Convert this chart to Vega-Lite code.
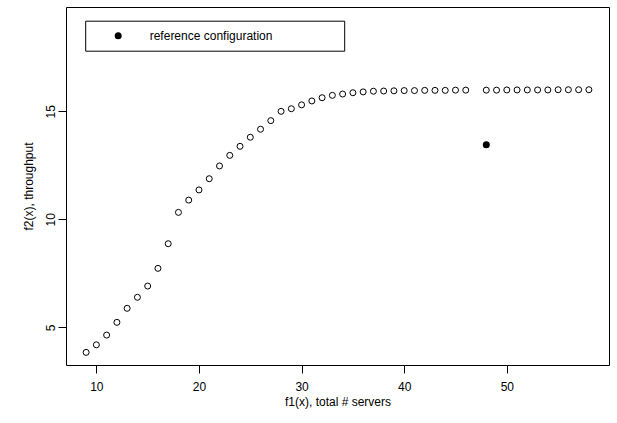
{
  "$schema": "https://vega.github.io/schema/vega-lite/v6.json",
  "width": 543,
  "height": 358,
  "autosize": {"type": "none"},
  "padding": {"left": 66, "top": 7, "right": 8, "bottom": 58},
  "background": "white",
  "config": {
    "font": "Liberation Sans",
    "view": {"stroke": "black", "strokeWidth": 1},
    "axis": {
      "domain": false,
      "grid": false,
      "tickColor": "black",
      "tickSize": 8,
      "tickWidth": 1,
      "labelColor": "black",
      "labelFont": "Liberation Sans",
      "labelFontSize": 12,
      "titleColor": "black",
      "titleFont": "Liberation Sans",
      "titleFontSize": 12,
      "titleFontWeight": "normal"
    }
  },
  "datasets": {
    "front": [
      {"servers": 9, "throughput": 3.84},
      {"servers": 10, "throughput": 4.19},
      {"servers": 11, "throughput": 4.64},
      {"servers": 12, "throughput": 5.23},
      {"servers": 13, "throughput": 5.88},
      {"servers": 14, "throughput": 6.39},
      {"servers": 15, "throughput": 6.91},
      {"servers": 16, "throughput": 7.73},
      {"servers": 17, "throughput": 8.87},
      {"servers": 18, "throughput": 10.32},
      {"servers": 19, "throughput": 10.89},
      {"servers": 20, "throughput": 11.36},
      {"servers": 21, "throughput": 11.88},
      {"servers": 22, "throughput": 12.47},
      {"servers": 23, "throughput": 12.96},
      {"servers": 24, "throughput": 13.38},
      {"servers": 25, "throughput": 13.8},
      {"servers": 26, "throughput": 14.17},
      {"servers": 27, "throughput": 14.57},
      {"servers": 28, "throughput": 15.0},
      {"servers": 29, "throughput": 15.12},
      {"servers": 30, "throughput": 15.3},
      {"servers": 31, "throughput": 15.48},
      {"servers": 32, "throughput": 15.63},
      {"servers": 33, "throughput": 15.74},
      {"servers": 34, "throughput": 15.8},
      {"servers": 35, "throughput": 15.86},
      {"servers": 36, "throughput": 15.9},
      {"servers": 37, "throughput": 15.93},
      {"servers": 38, "throughput": 15.94},
      {"servers": 39, "throughput": 15.95},
      {"servers": 40, "throughput": 15.96},
      {"servers": 41, "throughput": 15.96},
      {"servers": 42, "throughput": 15.97},
      {"servers": 43, "throughput": 15.97},
      {"servers": 44, "throughput": 15.97},
      {"servers": 45, "throughput": 15.98},
      {"servers": 46, "throughput": 15.98},
      {"servers": 48, "throughput": 15.98},
      {"servers": 49, "throughput": 15.98},
      {"servers": 50, "throughput": 15.99},
      {"servers": 51, "throughput": 15.99},
      {"servers": 52, "throughput": 15.99},
      {"servers": 53, "throughput": 15.99},
      {"servers": 54, "throughput": 15.99},
      {"servers": 55, "throughput": 16.0},
      {"servers": 56, "throughput": 16.0},
      {"servers": 57, "throughput": 16.0},
      {"servers": 58, "throughput": 16.0}
    ],
    "reference": [
      {"servers": 48, "throughput": 13.45, "series": "reference configuration"}
    ]
  },
  "encoding": {
    "x": {
      "field": "servers",
      "type": "quantitative",
      "scale": {"domain": [7.04, 59.96], "nice": false, "zero": false},
      "axis": {
        "title": "f1(x), total # servers",
        "values": [10, 20, 30, 40, 50],
        "labelPadding": 8,
        "titlePadding": 4
      }
    },
    "y": {
      "field": "throughput",
      "type": "quantitative",
      "scale": {"domain": [3.255, 19.83], "nice": false, "zero": false},
      "axis": {
        "title": "f2(x), throughput",
        "values": [5, 10, 15],
        "labelAngle": 270,
        "labelAlign": "center",
        "labelBaseline": "alphabetic",
        "labelPadding": 4,
        "titlePadding": 9
      }
    }
  },
  "layer": [
    {
      "data": {"name": "front"},
      "mark": {"type": "point", "shape": "circle", "filled": false, "stroke": "black", "strokeWidth": 1, "size": 36, "opacity": 1}
    },
    {
      "data": {"name": "reference"},
      "mark": {"type": "point", "shape": "circle", "filled": true, "size": 49, "opacity": 1},
      "encoding": {
        "color": {
          "field": "series",
          "type": "nominal",
          "scale": {"range": ["black"]},
          "legend": {
            "title": null,
            "orient": "none",
            "legendX": 19.2,
            "legendY": 13.7,
            "strokeColor": "black",
            "padding": 9,
            "symbolType": "circle",
            "symbolSize": 49,
            "symbolOffset": 18,
            "symbolFillColor": "black",
            "symbolStrokeWidth": 0,
            "labelFont": "Liberation Sans",
            "labelFontSize": 12,
            "labelColor": "black",
            "labelOffset": 25.5,
            "labelLimit": 400,
            "labelExpr": "datum.label + '\u00a0\u00a0\u00a0\u00a0\u00a0\u00a0\u00a0\u00a0\u00a0\u00a0\u00a0\u00a0\u00a0\u00a0\u00a0\u00a0' + '\u2800'"
          }
        }
      }
    }
  ]
}
